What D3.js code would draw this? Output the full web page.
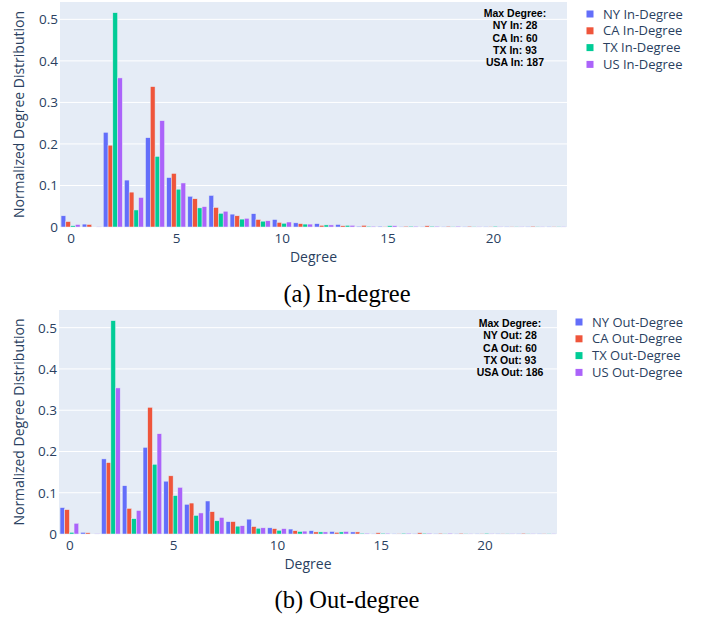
<!DOCTYPE html>
<html>
<head>
<meta charset="utf-8">
<script src="https://cdn.jsdelivr.net/npm/d3@7"></script>
<style>
  body { margin: 0; background: #fff; }
  svg text { font-family: "Open Sans", sans-serif; fill: #2a3f5f; }
  .grid line { stroke: #fff; stroke-width: 1; }
  .annot text { font-family: "Liberation Sans", Arial, sans-serif; font-weight: bold; fill: #000; font-size: 10.5px; }
  .caption { font-family: "Liberation Serif", "Times New Roman", serif; fill: #000 !important; font-size: 24.5px; }
</style>
</head>
<body>
<div id="chart"></div>
<script>
// degree 0..23 shown on the x axis
const degrees = d3.range(0, 24)
const colors = ['#636efa', '#EF553B', '#00cc96', '#ab63fa']

const inNames = ['NY In-Degree', 'CA In-Degree', 'TX In-Degree', 'US In-Degree']
const outNames = ['NY Out-Degree', 'CA Out-Degree', 'TX Out-Degree', 'US Out-Degree']

const nyIn = [0.027, 0.007, 0.228, 0.113, 0.215, 0.119, 0.074, 0.076, 0.031, 0.032, 0.018, 0.010, 0.008, 0.006, 0.002, 0.002, 0.001, 0.001, 0.001, 0.001, 0.001, 0.0005, 0.0005, 0.0005]
const caIn = [0.013, 0.006, 0.197, 0.084, 0.338, 0.129, 0.068, 0.047, 0.027, 0.018, 0.011, 0.008, 0.004, 0.003, 0.004, 0.001, 0.002, 0.003, 0.002, 0.002, 0.001, 0.001, 0.002, 0.001]
const txIn = [0.003, 0, 0.516, 0.041, 0.170, 0.091, 0.046, 0.033, 0.019, 0.014, 0.009, 0.007, 0.005, 0.004, 0.002, 0.003, 0.002, 0.002, 0.001, 0.001, 0.002, 0.001, 0.001, 0.001]
const usIn = [0.006, 0.001, 0.359, 0.071, 0.256, 0.106, 0.049, 0.038, 0.021, 0.015, 0.012, 0.007, 0.005, 0.004, 0.002, 0.003, 0.002, 0.002, 0.002, 0.001, 0.001, 0.001, 0.001, 0.001]

const nyOut = [0.064, 0.004, 0.182, 0.117, 0.210, 0.128, 0.072, 0.080, 0.030, 0.036, 0.015, 0.012, 0.008, 0.006, 0.005, 0.001, 0.001, 0.001, 0.001, 0.001, 0.001, 0.0005, 0.0005, 0.0005]
const caOut = [0.059, 0.003, 0.173, 0.062, 0.307, 0.141, 0.075, 0.054, 0.030, 0.018, 0.013, 0.008, 0.005, 0.004, 0.005, 0.003, 0.001, 0.003, 0.002, 0.002, 0.001, 0.001, 0.002, 0.001]
const txOut = [0.004, 0, 0.517, 0.037, 0.169, 0.093, 0.045, 0.032, 0.019, 0.014, 0.009, 0.006, 0.005, 0.005, 0.002, 0.002, 0.002, 0.002, 0.001, 0.001, 0.002, 0.001, 0.001, 0.001]
const usOut = [0.026, 0.001, 0.354, 0.057, 0.243, 0.113, 0.051, 0.040, 0.020, 0.015, 0.013, 0.007, 0.005, 0.006, 0.002, 0.002, 0.002, 0.002, 0.002, 0.001, 0.001, 0.001, 0.001, 0.001]

const inAnnot = ['Max Degree:', 'NY In: 28', 'CA In: 60', 'TX In: 93', 'USA In: 187']
const outAnnot = ['Max Degree:', 'NY Out: 28', 'CA Out: 60', 'TX Out: 93', 'USA Out: 186']

const xTicks = [0, 5, 10, 15, 20]
const yTicks = [0, 0.1, 0.2, 0.3, 0.4, 0.5]

const W = 701, H = 618

let svg = d3.select('#chart').append('svg')
.attr('width', W)
.attr('height', H)

let panels = [
	{ top: 2, bottom: 227, left: 60, right: 567, series: [nyIn, caIn, txIn, usIn], names: inNames,
	  annot: inAnnot, annotX: 515, annotY: 17, legX: 590, legY: 14, caption: '(a) In-degree', capY: 302 },
	{ top: 310, bottom: 534, left: 59, right: 557, series: [nyOut, caOut, txOut, usOut], names: outNames,
	  annot: outAnnot, annotX: 510, annotY: 327, legX: 579, legY: 322, caption: '(b) Out-degree', capY: 608 }
]

panels.forEach(p => {

	let g = svg.append('g')

	let x = d3.scaleLinear()
	.domain([-0.5, 23.5])
	.range([p.left, p.right])

	let ymax = d3.max(p.series, s => d3.max(s)) * 1.05

	let y = d3.scaleLinear()
	.domain([0, ymax])
	.range([p.bottom, p.top])

	g.append('rect')
	.attr('x', p.left)
	.attr('y', p.top)
	.attr('width', p.right - p.left)
	.attr('height', p.bottom - p.top)
	.attr('fill', '#E5ECF6')

	g.append('g').attr('class', 'grid')
	.selectAll('line')
	.data(yTicks.filter(t => t > 0))
	.enter()
	.append('line')
	.attr('x1', p.left)
	.attr('x2', p.right)
	.attr('y1', d => y(d))
	.attr('y2', d => y(d))

	// grouped bars: 4 series share 0.9 of each degree slot
	let groupW = 0.9
	let xs = d3.scaleBand()
	.domain(d3.range(p.series.length))
	.range([-groupW / 2, groupW / 2])

	p.series.forEach((s, i) => {
		g.append('g').selectAll('rect')
		.data(degrees.map(d => ({ deg: d, v: s[d] })))
		.enter()
		.append('rect')
		.attr('x', d => x(d.deg + xs(i)))
		.attr('width', x(xs.bandwidth()) - x(0))
		.attr('y', d => y(d.v))
		.attr('height', d => p.bottom - y(d.v))
		.attr('fill', colors[i])
		.attr('stroke', '#E5ECF6')
		.attr('stroke-width', 0.5)
	})

	let yAxis = g.append('g')
	.attr('transform', 'translate(' + (p.left - 2) + ',0)')
	.call(d3.axisLeft(y).tickValues(yTicks).tickFormat(d => d === 0 ? '0' : d3.format('.1f')(d)).tickSize(0).tickPadding(0))
	yAxis.select('.domain').remove()
	yAxis.selectAll('text').style('font-size', '13.5px').attr('fill', '#2a3f5f')

	let xAxis = g.append('g')
	.attr('transform', 'translate(0,' + p.bottom + ')')
	.call(d3.axisBottom(x).tickValues(xTicks).tickSize(0).tickPadding(6))
	xAxis.select('.domain').remove()
	xAxis.selectAll('text').style('font-size', '13.5px').attr('fill', '#2a3f5f')

	g.append('text')
	.attr('x', (p.left + p.right) / 2)
	.attr('y', p.bottom + 35)
	.attr('text-anchor', 'middle')
	.style('font-size', '14px')
	.text('Degree')

	g.append('text')
	.attr('transform', 'translate(24,' + ((p.top + p.bottom) / 2) + ') rotate(-90)')
	.attr('text-anchor', 'middle')
	.style('font-size', '14px')
	.text('Normalized Degree Distribution')

	let an = g.append('g').attr('class', 'annot')
	an.selectAll('text')
	.data(p.annot)
	.enter()
	.append('text')
	.attr('x', p.annotX)
	.attr('y', (d, i) => p.annotY + i * 12.3)
	.attr('text-anchor', 'middle')
	.text(d => d)

	let leg = g.append('g').selectAll('g')
	.data(p.names)
	.enter()
	.append('g')
	.attr('transform', (d, i) => 'translate(' + p.legX + ',' + (p.legY + i * 16.8) + ')')

	leg.append('rect')
	.attr('x', -3.5)
	.attr('y', -3.5)
	.attr('width', 7)
	.attr('height', 7)
	.attr('fill', (d, i) => colors[i])

	leg.append('text')
	.attr('x', 13)
	.attr('dy', '0.35em')
	.style('font-size', '13px')
	.text(d => d)

	svg.append('text')
	.attr('class', 'caption')
	.attr('x', 347)
	.attr('y', p.capY)
	.attr('text-anchor', 'middle')
	.text(p.caption)
})
</script>
</body>
</html>
